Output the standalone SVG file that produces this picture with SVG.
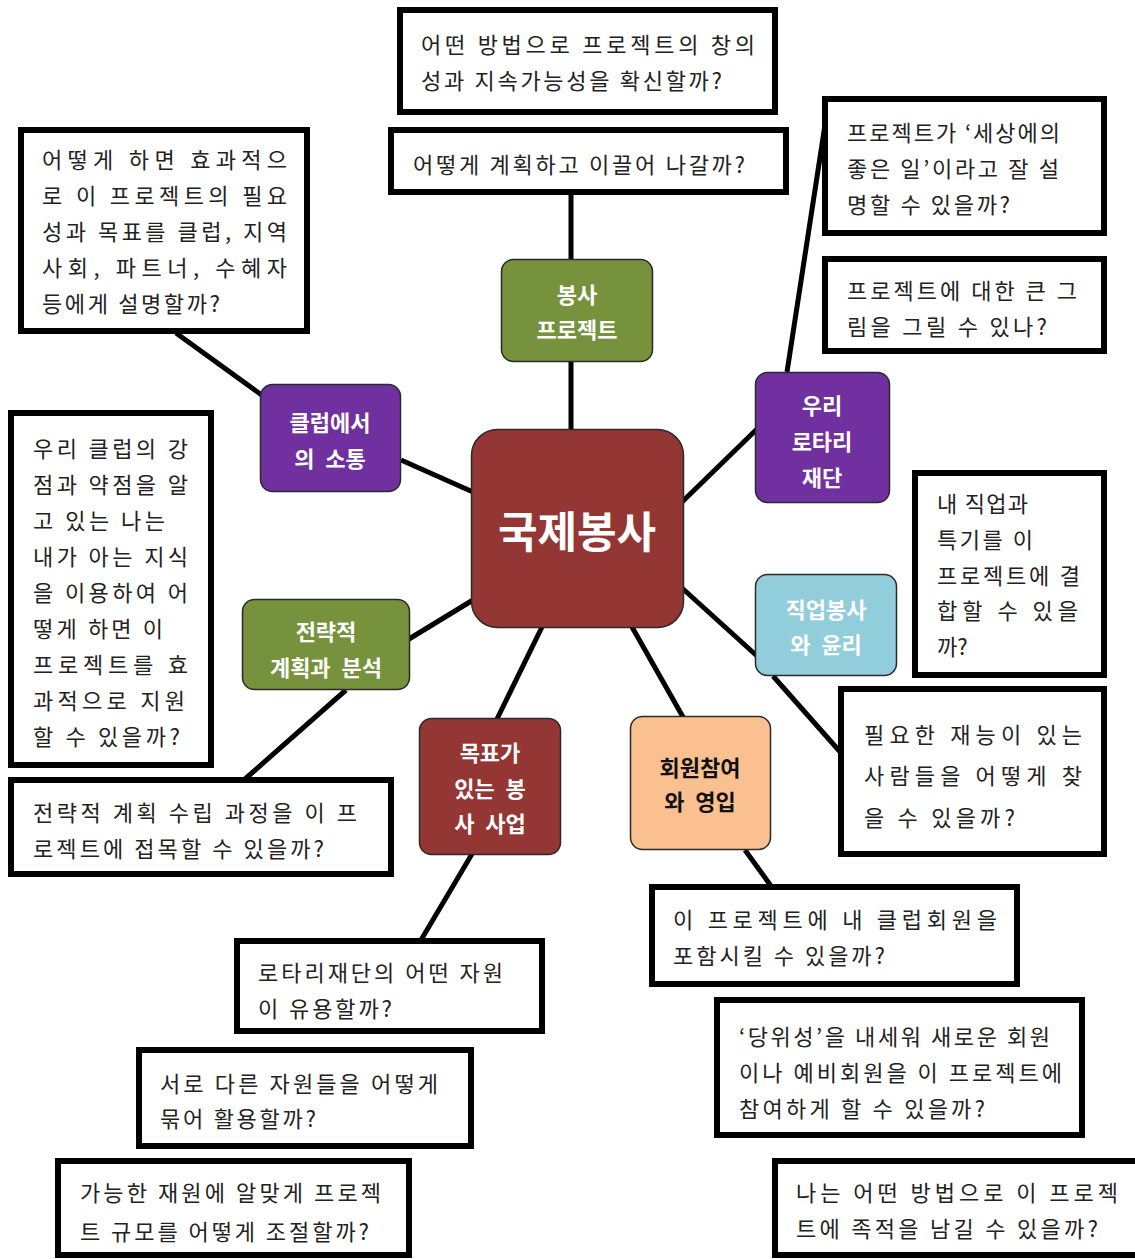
<svg xmlns="http://www.w3.org/2000/svg" width="1135" height="1259" viewBox="0 0 1135 1259">
<style>
.box{fill:#fff;stroke:#000;stroke-width:6}
.q{font-family:"Noto Sans CJK KR","Noto Sans",sans-serif;font-size:22px;fill:#222;dominant-baseline:central}
.node{stroke:#2a2a2a;stroke-width:1.5}
.nt{font-family:"Noto Sans CJK KR","Noto Sans",sans-serif;font-size:22px;font-weight:bold;fill:#fff;text-anchor:middle;dominant-baseline:central;word-spacing:6px}
.conn{stroke:#000;stroke-width:5;fill:none}
</style>
<rect width="1135" height="1259" fill="#fff"/>
<g id="connectors">
<line class="conn" x1="571" y1="429" x2="571" y2="362"/>
<line class="conn" x1="571" y1="259" x2="571" y2="193"/>
<line class="conn" x1="401" y1="460" x2="473" y2="492"/>
<line class="conn" x1="263" y1="396" x2="176" y2="333"/>
<line class="conn" x1="682" y1="502" x2="757" y2="429"/>
<line class="conn" x1="787" y1="372" x2="827" y2="112"/>
<line class="conn" x1="682" y1="588" x2="757" y2="656"/>
<line class="conn" x1="773" y1="676" x2="842" y2="754"/>
<line class="conn" x1="542" y1="627" x2="497" y2="719"/>
<line class="conn" x1="472" y1="854" x2="421" y2="940"/>
<line class="conn" x1="632" y1="627" x2="683" y2="717"/>
<line class="conn" x1="745" y1="850" x2="771" y2="886"/>
<line class="conn" x1="473" y1="600" x2="409" y2="639"/>
<line class="conn" x1="346" y1="690" x2="245" y2="779"/>
</g>
<g id="center">
<rect class="node" x="471.5" y="429.5" width="212" height="198" rx="26" fill="#943634"/>
<text class="nt" x="577" y="529" style="font-size:43px">국제봉사</text>
</g>
<g id="n-project">
<rect class="node" x="501.5" y="259.5" width="151" height="102" rx="12" fill="#76923c"/>
<text class="nt" x="577" y="293">봉사</text>
<text class="nt" x="577" y="328">프로젝트</text>
</g>
<g id="n-club">
<rect class="node" x="260.5" y="384.5" width="140" height="107" rx="12" fill="#7030a0"/>
<text class="nt" x="330" y="421">클럽에서</text>
<text class="nt" x="330" y="457">의 소통</text>
</g>
<g id="n-foundation">
<rect class="node" x="755.5" y="372.5" width="134" height="130" rx="12" fill="#7030a0"/>
<text class="nt" x="822" y="404">우리</text>
<text class="nt" x="822" y="440">로타리</text>
<text class="nt" x="822" y="476">재단</text>
</g>
<g id="n-vocational">
<rect class="node" x="755.5" y="574.5" width="141" height="101" rx="12" fill="#92cddc"/>
<text class="nt" x="826" y="608">직업봉사</text>
<text class="nt" x="826" y="643">와 윤리</text>
</g>
<g id="n-strategy">
<rect class="node" x="242.5" y="599.5" width="167" height="90" rx="12" fill="#76923c"/>
<text class="nt" x="326" y="630">전략적</text>
<text class="nt" x="326" y="666">계획과 분석</text>
</g>
<g id="n-goal">
<rect class="node" x="419.5" y="718.5" width="141" height="136" rx="12" fill="#943634"/>
<text class="nt" x="490" y="751">목표가</text>
<text class="nt" x="490" y="787">있는 봉</text>
<text class="nt" x="490" y="822">사 사업</text>
</g>
<g id="n-member">
<rect class="node" x="630.5" y="716.5" width="140" height="133" rx="12" fill="#fac090"/>
<text class="nt" x="700" y="766" style="fill:#111">회원참여</text>
<text class="nt" x="700" y="800" style="fill:#111">와 영입</text>
</g>
<g id="q1">
<rect class="box" x="400" y="10" width="375" height="102"/>
<text class="q" x="421" y="43" textLength="334" lengthAdjust="spacing">어떤 방법으로 프로젝트의 창의</text>
<text class="q" x="421" y="79" textLength="301" lengthAdjust="spacing">성과 지속가능성을 확신할까?</text>
</g>
<g id="q2">
<rect class="box" x="391" y="130" width="395" height="62"/>
<text class="q" x="413" y="163" textLength="332" lengthAdjust="spacing">어떻게 계획하고 이끌어 나갈까?</text>
</g>
<g id="q3">
<rect class="box" x="21" y="130" width="286" height="201"/>
<text class="q" x="42" y="158" textLength="245" lengthAdjust="spacing">어떻게 하면 효과적으</text>
<text class="q" x="42" y="194" textLength="245" lengthAdjust="spacing">로 이 프로젝트의 필요</text>
<text class="q" x="42" y="230" textLength="245" lengthAdjust="spacing">성과 목표를 클럽, 지역</text>
<text class="q" x="42" y="266" textLength="245" lengthAdjust="spacing">사회, 파트너, 수혜자</text>
<text class="q" x="42" y="302" textLength="178" lengthAdjust="spacing">등에게 설명할까?</text>
</g>
<g id="q4">
<rect class="box" x="11" y="413" width="200" height="352"/>
<text class="q" x="33" y="447" textLength="155" lengthAdjust="spacing">우리 클럽의 강</text>
<text class="q" x="33" y="483" textLength="155" lengthAdjust="spacing">점과 약점을 알</text>
<text class="q" x="33" y="519" textLength="132" lengthAdjust="spacing">고 있는 나는</text>
<text class="q" x="33" y="555" textLength="155" lengthAdjust="spacing">내가 아는 지식</text>
<text class="q" x="33" y="591" textLength="155" lengthAdjust="spacing">을 이용하여 어</text>
<text class="q" x="33" y="627" textLength="130" lengthAdjust="spacing">떻게 하면 이</text>
<text class="q" x="33" y="663" textLength="155" lengthAdjust="spacing">프로젝트를 효</text>
<text class="q" x="33" y="699" textLength="152" lengthAdjust="spacing">과적으로 지원</text>
<text class="q" x="33" y="735" textLength="147" lengthAdjust="spacing">할 수 있을까?</text>
</g>
<g id="q5">
<rect class="box" x="825" y="99" width="279" height="134"/>
<text class="q" x="847" y="131" textLength="213" lengthAdjust="spacing">프로젝트가 ‘세상에의</text>
<text class="q" x="847" y="167" textLength="212" lengthAdjust="spacing">좋은 일’이라고 잘 설</text>
<text class="q" x="847" y="203" textLength="163" lengthAdjust="spacing">명할 수 있을까?</text>
</g>
<g id="q6">
<rect class="box" x="825" y="259" width="279" height="92"/>
<text class="q" x="847" y="289" textLength="230" lengthAdjust="spacing">프로젝트에 대한 큰 그</text>
<text class="q" x="847" y="325" textLength="200" lengthAdjust="spacing">림을 그릴 수 있나?</text>
</g>
<g id="q7">
<rect class="box" x="915" y="473" width="189" height="202"/>
<text class="q" x="937" y="502" textLength="91" lengthAdjust="spacing">내 직업과</text>
<text class="q" x="937" y="538" textLength="96" lengthAdjust="spacing">특기를 이</text>
<text class="q" x="937" y="574" textLength="143" lengthAdjust="spacing">프로젝트에 결</text>
<text class="q" x="937" y="609" textLength="141" lengthAdjust="spacing">합할 수 있을</text>
<text class="q" x="937" y="645">까?</text>
</g>
<g id="q8">
<rect class="box" x="841" y="689" width="263" height="165"/>
<text class="q" x="864" y="733" textLength="218" lengthAdjust="spacing">필요한 재능이 있는</text>
<text class="q" x="864" y="774" textLength="218" lengthAdjust="spacing">사람들을 어떻게 찾</text>
<text class="q" x="864" y="816" textLength="151" lengthAdjust="spacing">을 수 있을까?</text>
</g>
<g id="q9">
<rect class="box" x="11" y="780" width="380" height="94"/>
<text class="q" x="33" y="811" textLength="324" lengthAdjust="spacing">전략적 계획 수립 과정을 이 프</text>
<text class="q" x="33" y="847" textLength="291" lengthAdjust="spacing">로젝트에 접목할 수 있을까?</text>
</g>
<g id="q10">
<rect class="box" x="652" y="887" width="365" height="97"/>
<text class="q" x="673" y="918" textLength="324" lengthAdjust="spacing">이 프로젝트에 내 클럽회원을</text>
<text class="q" x="673" y="954" textLength="212" lengthAdjust="spacing">포함시킬 수 있을까?</text>
</g>
<g id="q11">
<rect class="box" x="237" y="941" width="305" height="90"/>
<text class="q" x="258" y="971" textLength="245" lengthAdjust="spacing">로타리재단의 어떤 자원</text>
<text class="q" x="258" y="1007" textLength="134" lengthAdjust="spacing">이 유용할까?</text>
</g>
<g id="q12">
<rect class="box" x="717" y="1000" width="365" height="135"/>
<text class="q" x="739" y="1035" textLength="311" lengthAdjust="spacing">‘당위성’을 내세워 새로운 회원</text>
<text class="q" x="739" y="1071" textLength="323" lengthAdjust="spacing">이나 예비회원을 이 프로젝트에</text>
<text class="q" x="739" y="1107" textLength="246" lengthAdjust="spacing">참여하게 할 수 있을까?</text>
</g>
<g id="q13">
<rect class="box" x="139" y="1050" width="332" height="96"/>
<text class="q" x="160" y="1082" textLength="278" lengthAdjust="spacing">서로 다른 자원들을 어떻게</text>
<text class="q" x="160" y="1117" textLength="156" lengthAdjust="spacing">묶어 활용할까?</text>
</g>
<g id="q14">
<rect class="box" x="58" y="1161" width="351" height="94"/>
<text class="q" x="80" y="1191" textLength="301" lengthAdjust="spacing">가능한 재원에 알맞게 프로젝</text>
<text class="q" x="80" y="1230" textLength="289" lengthAdjust="spacing">트 규모를 어떻게 조절할까?</text>
</g>
<g id="q15">
<rect class="box" x="775" y="1161" width="372" height="94"/>
<text class="q" x="796" y="1191" textLength="322" lengthAdjust="spacing">나는 어떤 방법으로 이 프로젝</text>
<text class="q" x="796" y="1227" textLength="302" lengthAdjust="spacing">트에 족적을 남길 수 있을까?</text>
</g>
</svg>
